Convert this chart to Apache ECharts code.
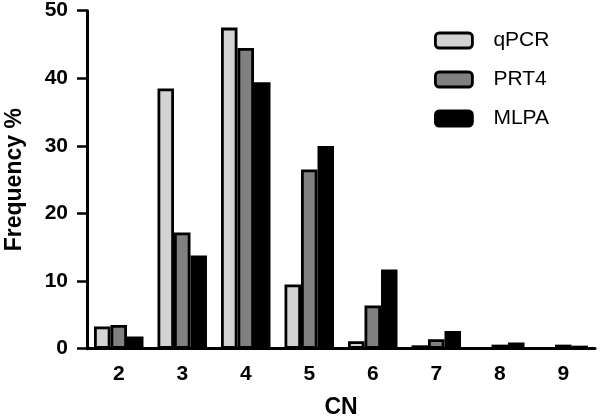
<!DOCTYPE html>
<html>
<head>
<meta charset="utf-8">
<script src="https://cdn.jsdelivr.net/npm/echarts@6/dist/echarts.min.js"></script>
<style>
  html, body { margin: 0; padding: 0; background: #fff; }
  #chart { width: 600px; height: 417px; }
</style>
</head>
<body>
<div id="chart"></div>
<script>
// copy number categories
const cnLabels = ['2', '3', '4', '5', '6', '7', '8', '9'];
const yTicks = [0, 10, 20, 30, 40, 50];

// frequency % per method
const qpcr = [3.3, 38.5, 47.5, 9.5, 1.1, 0.5, 0, 0];
const prt4 = [3.5, 17.2, 44.5, 26.5, 6.4, 1.4, 0.6, 0.6];
const mlpa = [1.8, 13.8, 39.4, 30.0, 11.7, 2.6, 0.9, 0.45];

const font = 'Liberation Sans, Arial, sans-serif';

let myChart = echarts.init(document.getElementById('chart'));

function barSeries(name, color, data) {
  return {
    name: name,
    type: 'bar',
    barWidth: 16.5,
    barGap: 0,
    data: data,
    itemStyle: {
      color: color,
      borderColor: '#000',
      borderWidth: 2.8
    }
  };
}

myChart.setOption({
  animation: false,
  grid: {
    left: 87,
    right: 5,
    top: 10.7,
    bottom: 68.3,
    outerBoundsMode: 'none',
    containLabel: false
  },
  legend: {
    orient: 'vertical',
    left: 429,
    top: 25,
    itemWidth: 37,
    itemHeight: 15,
    itemGap: 18,
    icon: 'roundRect',
    itemStyle: { borderColor: '#000', borderWidth: 2.8 },
    textStyle: {
      fontFamily: font,
      fontSize: 21,
      color: '#000',
      padding: [0, 0, 0, 16]
    },
    data: ['qPCR', 'PRT4', 'MLPA']
  },
  xAxis: {
    type: 'category',
    data: cnLabels,
    name: 'CN',
    nameLocation: 'middle',
    nameGap: 47,
    nameTextStyle: { fontFamily: font, fontSize: 23, fontWeight: 'bold', color: '#000' },
    axisLine: { lineStyle: { color: '#000', width: 3 } },
    axisTick: { show: false },
    axisLabel: { fontFamily: font, fontSize: 21, fontWeight: 'bold', color: '#000', margin: 15 },
    splitLine: { show: false }
  },
  yAxis: {
    type: 'value',
    min: yTicks[0],
    max: yTicks[yTicks.length - 1],
    interval: 10,
    name: 'Frequency %',
    nameLocation: 'middle',
    nameGap: 61,
    nameTextStyle: { fontFamily: font, fontSize: 23, fontWeight: 'bold', color: '#000' },
    axisLine: { show: true, lineStyle: { color: '#000', width: 3 } },
    axisTick: { show: true, length: 10, lineStyle: { color: '#000', width: 2.5 } },
    axisLabel: { fontFamily: font, fontSize: 21, fontWeight: 'bold', color: '#000', margin: 19 },
    splitLine: { show: false }
  },
  series: [
    barSeries('qPCR', '#d3d3d3', qpcr),
    barSeries('PRT4', '#808080', prt4),
    barSeries('MLPA', '#000000', mlpa)
  ]
});

window.addEventListener('resize', () => {
  myChart.resize();
});
</script>
</body>
</html>
